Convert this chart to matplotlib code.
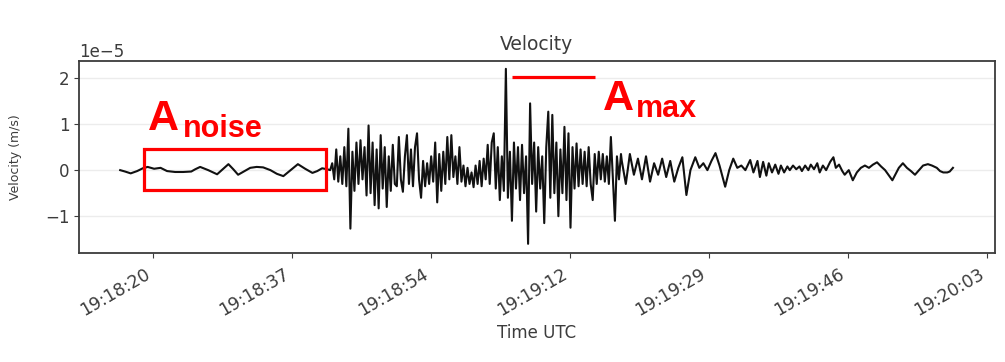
"""Velocity trace with noise window and peak amplitude markers."""
import datetime as dt

import matplotlib.pyplot as plt
import numpy as np
from matplotlib.patches import Rectangle
from matplotlib.ticker import FuncFormatter

# Trace start reference (all times below are seconds after this)
T_REF = dt.datetime(2000, 1, 1, 19, 18, 0)
SCALE = 1e-5  # values below are in units of 1e-5 m/s

# pre-event noise (irregular samples)
noise_t = [16.4, 17.0, 17.7, 18.5, 19.2, 19.8, 20.6, 21.4, 22.2, 23.2, 24.2,
           25.2, 25.7, 26.3, 27.3, 28.4, 29.1, 29.8, 30.4, 31.0, 31.8, 32.5,
           33.3, 34.1, 35.0, 35.8, 36.6, 37.5, 38.4, 39.3, 40.2, 40.8, 41.4,
           42.0]
noise_v = [0.0, -0.03, -0.07, -0.02, 0.04, 0.07, 0.03, 0.05, -0.02, -0.04,
           -0.04, -0.03, 0.02, 0.07, 0.0, -0.09, 0.02, 0.13, 0.02, -0.1, -0.02,
           0.05, 0.07, 0.06, 0.0, -0.08, -0.13, 0.0, 0.13, 0.03, -0.06, -0.02,
           0.04, 0.02]

# main arrival, sampled every 0.25 s from 42.4 s
BURST_T0 = 42.4
BURST_DT = 0.25
burst_v = [
    0.0, 0.15, -0.2, 0.45, -0.25, 0.3, -0.3, 0.5, -0.35, 0.9,
    -1.27, 0.4, -0.45, 0.6, -0.3, 0.65, -0.2, 0.5, -0.55, 0.97,
    -0.5, 0.6, -0.76, 0.45, -0.83, 0.76, -0.4, 0.5, -0.8, 0.3,
    -0.45, 0.55, -0.3, -0.35, 0.72, -0.2, -0.47, 0.3, 0.76, -0.3,
    0.45, -0.35, 0.5, 0.8, -0.2, -0.6, 0.2, -0.35, 0.15, -0.3,
    0.3, -0.25, 0.6, -0.7, 0.35, -0.45, 0.4, -0.3, 0.72, -0.2,
    0.76, -0.15, 0.3, -0.3, 0.5, -0.25, 0.1, -0.35, 0.05, -0.3,
    -0.05, -0.37, 0.1, -0.3, 0.2, -0.35, 0.25, -0.2, 0.55, -0.3,
    0.6, 0.8, -0.4, 0.5, -0.65, 0.3, -0.45, 2.2, -0.6, 0.4,
    -1.1, 0.6, -0.4, 0.5, -0.65, 0.55, -0.5, 0.3, -1.6, 1.45,
    -0.3, 0.6, -0.9, 0.5, -0.4, 0.3, -1.15, 0.5, 1.27, -0.6,
    1.2, -0.5, 0.6, -1.0, 0.45, -0.5, 0.94, -0.65, 0.8, -1.25,
    0.5, -0.4, 0.58, -0.35, 0.45, -0.3, 0.4, -0.35, 0.5, -0.3,
    -0.65, 0.35, -0.3, 0.4, -0.2, 0.35, -0.25, 0.3, -0.3, 0.72,
    -0.2, -1.1, 0.3, -0.2, 0.35,
]

# coda (irregular samples)
coda_t = [78.5, 79.0, 79.5, 80.0, 80.5, 81.0, 81.5, 82.0, 82.5, 83.0, 83.5,
          84.0, 84.5, 85.0, 85.5, 86.0, 86.5, 87.0, 87.6, 88.1, 88.6, 89.1,
          89.6, 90.1, 90.6, 90.9, 91.3, 91.8, 92.3, 92.8, 93.3, 93.8, 94.4,
          94.8, 95.3, 95.6, 96.0, 96.4, 96.7, 97.1, 97.5, 97.9, 98.2, 98.6,
          99.0, 99.3, 99.7, 100.1, 100.5, 100.8, 101.2, 101.6, 101.9, 102.3,
          102.7, 103.0, 103.4, 103.8, 104.3, 104.7, 105.0, 105.4, 105.8,
          106.1, 106.6, 107.1, 107.6, 108.1, 108.6, 109.1, 109.6, 110.1,
          110.6, 111.1, 111.6, 112.0, 112.5, 112.8, 113.3, 113.8, 114.3,
          114.8, 115.3, 115.8, 116.4, 116.9, 117.5, 117.9, 118.3, 118.8,
          119.1, 119.5]
coda_v = [0.2, -0.3, 0.35, -0.1, 0.25, -0.2, 0.3, -0.25, 0.15, -0.1, 0.25,
          -0.15, 0.2, -0.25, 0.05, 0.28, -0.54, 0.0, 0.28, 0.05, 0.15, 0.0,
          0.2, 0.37, 0.1, -0.1, -0.36, 0.0, 0.25, 0.05, 0.1, 0.0, 0.22,
          -0.05, 0.2, -0.15, 0.18, -0.12, 0.15, -0.05, 0.12, -0.08, 0.1,
          -0.05, 0.08, 0.0, 0.1, 0.02, 0.08, -0.02, 0.1, 0.0, 0.12, 0.02,
          0.15, -0.05, 0.1, 0.0, 0.18, 0.28, 0.05, 0.12, -0.02, -0.1, 0.0,
          -0.22, -0.05, 0.05, 0.1, 0.05, 0.12, 0.17, 0.08, 0.0, -0.12, -0.22,
          -0.05, 0.05, 0.15, 0.05, -0.02, -0.1, 0.0, 0.1, 0.13, 0.1, 0.05,
          -0.02, -0.05, -0.05, -0.03, 0.05]

# x tick positions (s after T_REF)
tick_t = [20.5, 37.7, 54.9, 72.1, 89.3, 106.5, 123.7]

# annotation geometry
NOISE_WIN = (19.4, 41.9)
NOISE_BAND = (-0.43, 0.46)
AMAX_LEVEL = 2.02
AMAX_SPAN = (64.9, 75.2)
RED = "#ff0000"
GREY = "#3c3c3c"

burst_t = BURST_T0 + BURST_DT * np.arange(len(burst_v))
t = np.concatenate([noise_t, burst_t, coda_t])
v = np.concatenate([noise_v, burst_v, coda_v]) * SCALE


def hms(x, pos=None):
    return (T_REF + dt.timedelta(seconds=x)).strftime("%H:%M:%S")


fig = plt.figure(figsize=(10.05, 3.62), dpi=100)
ax = fig.add_axes([0.0786, 0.301, 0.9114, 0.5305])

ax.plot(t, v, color="#111111", lw=1.5)

ax.set_xlim(11.3, 124.7)
ax.set_ylim(-1.80 * SCALE, 2.37 * SCALE)
ax.set_xticks(tick_t)
ax.xaxis.set_major_formatter(FuncFormatter(hms))
ax.set_yticks(np.array([-1, 0, 1, 2]) * SCALE)
ax.tick_params(labelsize=12, colors=GREY)
ax.tick_params(axis="x", labelsize=12.5, pad=5)
ax.yaxis.get_offset_text().set_fontsize(12)
ax.yaxis.get_offset_text().set_color(GREY)
for lab in ax.get_xticklabels():
    lab.set_rotation(30)
    lab.set_horizontalalignment("right")
ax.grid(axis="y", color="#ececec", lw=1.0)
ax.set_axisbelow(True)
for s in ax.spines.values():
    s.set_color(GREY)
    s.set_linewidth(1.3)

ax.set_title("Velocity", fontsize=13.5, color=GREY, pad=8)
ax.set_xlabel("Time UTC", fontsize=12, color=GREY)
ax.xaxis.set_label_coords(0.5, -0.37)
ax.set_ylabel("Velocity (m/s)", fontsize=9, color=GREY)
ax.yaxis.set_label_coords(-0.062, 0.5)

# noise window and peak level markers
ax.add_patch(Rectangle((NOISE_WIN[0], NOISE_BAND[0] * SCALE),
                       NOISE_WIN[1] - NOISE_WIN[0],
                       (NOISE_BAND[1] - NOISE_BAND[0]) * SCALE,
                       fill=False, ec=RED, lw=2.3, zorder=5))
ax.plot(AMAX_SPAN, [AMAX_LEVEL * SCALE] * 2, color=RED, lw=2.3,
        solid_capstyle="butt", zorder=5)

big = dict(color=RED, fontweight="bold", family="Liberation Sans",
           va="baseline", ha="left", zorder=6)
ax.text(19.8, 0.87 * SCALE, "A", fontsize=31, **big)
ax.text(24.2, 0.72 * SCALE, "noise", fontsize=22, **big)
ax.text(76.2, 1.30 * SCALE, "A", fontsize=31, **big)
ax.text(80.3, 1.15 * SCALE, "max", fontsize=22, **big)

fig.savefig("out.png", dpi=100)
